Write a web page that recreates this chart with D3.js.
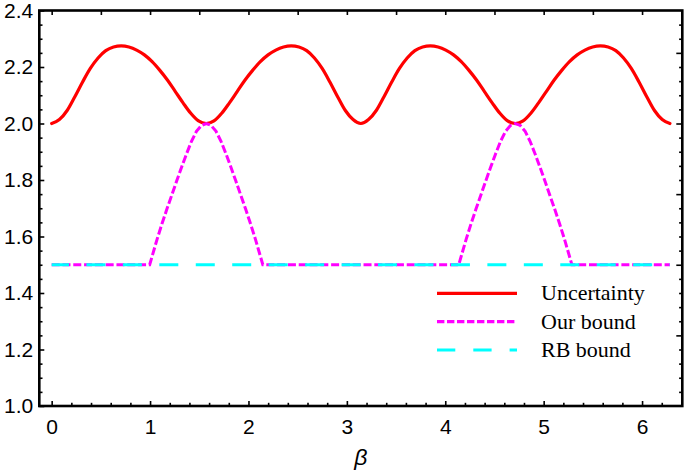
<!DOCTYPE html>
<html>
<head>
<meta charset="utf-8">
<script src="https://cdn.jsdelivr.net/npm/d3@7"></script>
<style>
  html, body { margin: 0; padding: 0; background: #fff; }
  svg { display: block; }
</style>
</head>
<body>
<svg id="chart" width="685" height="476"></svg>
<script>
// ---------------- DATA ----------------
const seriesNames = ["Uncertainty", "Our bound", "RB bound"];

const uncBeta = [0, 0.0785, 0.1571, 0.2356, 0.3142, 0.3927, 0.4712, 0.5498, 0.6283, 0.7069,
  0.7854, 0.8639, 0.9425, 1.0210, 1.0996, 1.1781, 1.2566, 1.3352, 1.4137, 1.4923,
  1.5708, 1.6493, 1.7279, 1.8064, 1.8850, 1.9635, 2.0420, 2.1206, 2.1991, 2.2777,
  2.3562, 2.4347, 2.5133, 2.5918, 2.6704, 2.7489, 2.8274, 2.9060, 2.9845, 3.0631,
  3.1416, 3.2201, 3.2987, 3.3772, 3.4558, 3.5343, 3.6128, 3.6914, 3.7699, 3.8485,
  3.9270, 4.0055, 4.0841, 4.1626, 4.2412, 4.3197, 4.3982, 4.4768, 4.5553, 4.6339,
  4.7124, 4.7909, 4.8695, 4.9480, 5.0265, 5.1051, 5.1836, 5.2622, 5.3407, 5.4192,
  5.4978, 5.5763, 5.6549, 5.7334, 5.8119, 5.8905, 5.9690, 6.0476, 6.1261, 6.2046,
  6.2832];
const uncValues = [2.000, 2.014, 2.046, 2.095, 2.147, 2.195, 2.232, 2.258, 2.271, 2.275,
  2.271, 2.260, 2.243, 2.219, 2.188, 2.153, 2.113, 2.073, 2.036, 2.009,
  2.000, 2.009, 2.036, 2.073, 2.113, 2.153, 2.188, 2.219, 2.243, 2.260,
  2.271, 2.275, 2.271, 2.258, 2.232, 2.195, 2.147, 2.095, 2.046, 2.014,
  2.000, 2.014, 2.046, 2.095, 2.147, 2.195, 2.232, 2.258, 2.271, 2.275,
  2.271, 2.260, 2.243, 2.219, 2.188, 2.153, 2.113, 2.073, 2.036, 2.009,
  2.000, 2.009, 2.036, 2.073, 2.113, 2.153, 2.188, 2.219, 2.243, 2.260,
  2.271, 2.275, 2.271, 2.258, 2.232, 2.195, 2.147, 2.095, 2.046, 2.014,
  2.000];

const ourBeta = [0, 0.996, 1.021, 1.071, 1.121, 1.171, 1.221, 1.271, 1.321, 1.371, 1.421, 1.471, 1.521,
  1.571, 1.621, 1.671, 1.721, 1.771, 1.821, 1.871, 1.921, 1.971, 2.021, 2.071, 2.121, 2.146,
  4.137, 4.162, 4.212, 4.262, 4.312, 4.362, 4.412, 4.462, 4.512, 4.562, 4.612, 4.662,
  4.712, 4.762, 4.812, 4.862, 4.912, 4.962, 5.012, 5.062, 5.112, 5.162, 5.212, 5.262, 5.287,
  6.2832];
const ourValues = [1.5, 1.5, 1.530, 1.590, 1.645, 1.697, 1.747, 1.797, 1.846, 1.893, 1.937, 1.972, 1.993,
  2.000, 1.993, 1.972, 1.937, 1.893, 1.846, 1.797, 1.747, 1.697, 1.645, 1.590, 1.530, 1.5,
  1.5, 1.530, 1.590, 1.645, 1.697, 1.747, 1.797, 1.846, 1.893, 1.937, 1.972, 1.993,
  2.000, 1.993, 1.972, 1.937, 1.893, 1.846, 1.797, 1.747, 1.697, 1.645, 1.590, 1.530, 1.5,
  1.5];

const rbBeta = [0, 6.2832];
const rbValues = [1.5, 1.5];

const xTickValues = [0, 1, 2, 3, 4, 5, 6];
const xTickLabels = ["0", "1", "2", "3", "4", "5", "6"];
const xMinorTicks = [0.2, 0.4, 0.6, 0.8, 1.2, 1.4, 1.6, 1.8, 2.2, 2.4, 2.6, 2.8, 3.2, 3.4, 3.6, 3.8,
  4.2, 4.4, 4.6, 4.8, 5.2, 5.4, 5.6, 5.8, 6.2];
const xTopTicks = [0, 0.5, 1, 1.5, 2, 2.5, 3, 3.5, 4, 4.5, 5, 5.5, 6];

const yTickValues = [1.0, 1.2, 1.4, 1.6, 1.8, 2.0, 2.2, 2.4];
const yTickLabels = ["1.0", "1.2", "1.4", "1.6", "1.8", "2.0", "2.2", "2.4"];
const yMinorTicks = [1.05, 1.1, 1.15, 1.25, 1.3, 1.35, 1.45, 1.5, 1.55, 1.65, 1.7, 1.75, 1.85, 1.9, 1.95,
  2.05, 2.1, 2.15, 2.25, 2.3, 2.35];
const yRightMajor = [1.25, 1.5, 1.75, 2.0, 2.25];
const yRightMinor = [1.05, 1.1, 1.15, 1.2, 1.3, 1.35, 1.4, 1.45, 1.55, 1.6, 1.65, 1.7, 1.8, 1.85, 1.9, 1.95,
  2.05, 2.1, 2.15, 2.2, 2.3, 2.35];

const xLabel = "β";

// ---------------- LAYOUT ----------------
const svg = d3.select("#chart");
const L = 39.3, R = 682.3, T = 10.5, B = 406;

const x = d3.scaleLinear().domain([-0.1257, 6.4089]).range([L, R]);
const y = d3.scaleLinear().domain([1.0, 2.4]).range([B, T]);

const sans = "'Liberation Sans', Arial, Helvetica, sans-serif";
const serif = "'Liberation Serif', 'Times New Roman', serif";

// Series
const toPts = (bs, vs) => bs.map((b, i) => [b, vs[i]]);

const lineSmooth = d3.line().x(d => x(d[0])).y(d => y(d[1])).curve(d3.curveMonotoneX);
const lineLin = d3.line().x(d => x(d[0])).y(d => y(d[1]));

svg.append("path")
  .attr("d", lineSmooth(toPts(uncBeta, uncValues)))
  .attr("fill", "none").attr("stroke", "#ff0000").attr("stroke-width", 3.2)
  .attr("stroke-linecap", "round").attr("stroke-linejoin", "round");

svg.append("path")
  .attr("d", lineLin(toPts(ourBeta, ourValues)))
  .attr("fill", "none").attr("stroke", "#ff00ff").attr("stroke-width", 3)
  .attr("stroke-dasharray", "8,2.8");

svg.append("path")
  .attr("d", lineLin(toPts(rbBeta, rbValues)))
  .attr("fill", "none").attr("stroke", "#00ffff").attr("stroke-width", 3)
  .attr("stroke-dasharray", "19,17.45").attr("stroke-dashoffset", 1.7);

// Axes (ticks pointing inward)
function styleAxis(g) {
  g.select(".domain").remove();
  g.selectAll(".tick line").attr("stroke", "#000").attr("stroke-width", 1.6);
  g.selectAll(".tick text").attr("fill", "#000").style("font-family", sans).style("font-size", "21px");
}

svg.append("g").attr("transform", `translate(0,${B})`)
  .call(d3.axisBottom(x).tickValues(xTickValues).tickFormat((d, i) => xTickLabels[i]).tickSize(-5).tickPadding(13))
  .call(styleAxis);
svg.append("g").attr("transform", `translate(0,${B})`)
  .call(d3.axisBottom(x).tickValues(xMinorTicks).tickFormat("").tickSize(-3.2))
  .call(styleAxis);
svg.append("g").attr("transform", `translate(0,${T})`)
  .call(d3.axisTop(x).tickValues(xTopTicks).tickFormat("").tickSize(-4.5))
  .call(styleAxis);

svg.append("g").attr("transform", `translate(${L},0)`)
  .call(d3.axisLeft(y).tickValues(yTickValues).tickFormat((d, i) => yTickLabels[i]).tickSize(-5).tickPadding(6))
  .call(styleAxis);
svg.append("g").attr("transform", `translate(${L},0)`)
  .call(d3.axisLeft(y).tickValues(yMinorTicks).tickFormat("").tickSize(-3.2))
  .call(styleAxis);
svg.append("g").attr("transform", `translate(${R},0)`)
  .call(d3.axisRight(y).tickValues(yRightMajor).tickFormat("").tickSize(-6))
  .call(styleAxis);
svg.append("g").attr("transform", `translate(${R},0)`)
  .call(d3.axisRight(y).tickValues(yRightMinor).tickFormat("").tickSize(-3.2))
  .call(styleAxis);

// Frame
svg.append("rect")
  .attr("x", L).attr("y", T).attr("width", R - L).attr("height", B - T)
  .attr("fill", "none").attr("stroke", "#000").attr("stroke-width", 2.6);

// Axis label
svg.append("text")
  .attr("x", (L + R) / 2).attr("y", 465)
  .attr("text-anchor", "middle")
  .style("font-family", sans).style("font-size", "23px").style("font-style", "italic")
  .text(xLabel);

// Legend
const legendRows = [
  { name: seriesNames[0], color: "#ff0000", dash: null, y: 293.3 },
  { name: seriesNames[1], color: "#ff00ff", dash: "7.4,2.6", y: 321.7 },
  { name: seriesNames[2], color: "#00ffff", dash: "18.3,18", y: 350 }
];
const lg = svg.append("g");
legendRows.forEach(r => {
  const ln = lg.append("line")
    .attr("x1", 437).attr("x2", 517).attr("y1", r.y).attr("y2", r.y)
    .attr("stroke", r.color).attr("stroke-width", 3.2);
  if (r.dash) ln.attr("stroke-dasharray", r.dash);
  lg.append("text")
    .attr("x", 541).attr("y", r.y + 7)
    .style("font-family", serif).style("font-size", "22px")
    .attr("fill", "#000")
    .text(r.name);
});
</script>
</body>
</html>
